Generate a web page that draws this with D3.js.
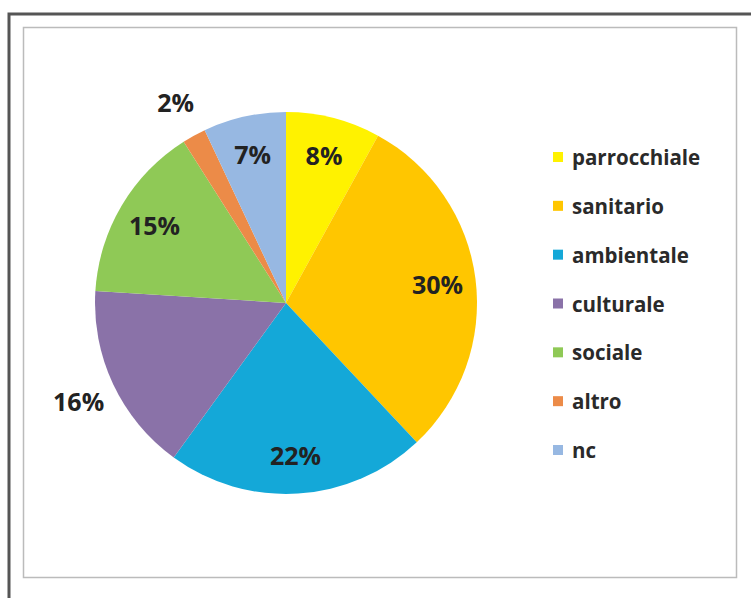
<!DOCTYPE html>
<html><head><meta charset="utf-8">
<script src="https://cdn.jsdelivr.net/npm/d3@7"></script>
<style>html,body{margin:0;padding:0;background:#fff;}svg{display:block;}</style>
</head><body>
<svg id="c" width="751" height="598"></svg>
<script>
const categories = ["parrocchiale","sanitario","ambientale","culturale","sociale","altro","nc"];
const values = [8,30,22,16,15,2,7];
const labels = ["8%","30%","22%","16%","15%","2%","7%"];
const colors = ["#FFF200","#FFC600","#14A8D8","#8A72A8","#8FC956","#EC8B48","#97B8E2"];
const outside = [false,false,false,true,false,true,false];

const svg = d3.select("#c");
// outer frame
svg.append("path").attr("d","M9,598 V14 H751").attr("fill","none").attr("stroke","#555").attr("stroke-width",3);
// inner chart area
svg.append("rect").attr("x",23.5).attr("y",27.5).attr("width",713).attr("height",550)
  .attr("fill","#fff").attr("stroke","#bbb").attr("stroke-width",1.5);

const cx = 286, cy = 303, r = 191;
const pie = d3.pie().sort(null).value(d=>d)(values);
const arc = d3.arc().innerRadius(0).outerRadius(r);
const g = svg.append("g").attr("transform",`translate(${cx},${cy})`);
g.selectAll("path.s").data(pie).join("path").attr("class","s")
  .attr("d",arc).attr("fill",(d,i)=>colors[i]);

const inArc = d3.arc().innerRadius(r*0.8).outerRadius(r*0.8);
const outArc = d3.arc().innerRadius(r*1.2).outerRadius(r*1.2);
g.selectAll("text.l").data(pie).join("text").attr("class","l")
  .attr("transform",(d,i)=>{const c=(outside[i]?outArc:inArc).centroid(d);return `translate(${c[0]},${c[1]})`;})
  .attr("text-anchor","middle").attr("dominant-baseline","central")
  .attr("font-family","'Open Sans', sans-serif").attr("font-weight",700).attr("font-size",25)
  .attr("fill","#222").text((d,i)=>labels[i]);

// legend
const ly = d3.scalePoint().domain(categories).range([157,450]);
const lg = svg.append("g");
lg.selectAll("rect").data(categories).join("rect")
  .attr("x",553).attr("y",d=>ly(d)-5).attr("width",10).attr("height",10)
  .attr("fill",(d,i)=>colors[i]);
lg.selectAll("text").data(categories).join("text")
  .attr("x",572).attr("y",d=>ly(d)).attr("dominant-baseline","central")
  .attr("font-family","'Open Sans', sans-serif").attr("font-weight",700).attr("font-size",20.5)
  .attr("fill","#2a2a2a").text(d=>d);
</script>
</body></html>
